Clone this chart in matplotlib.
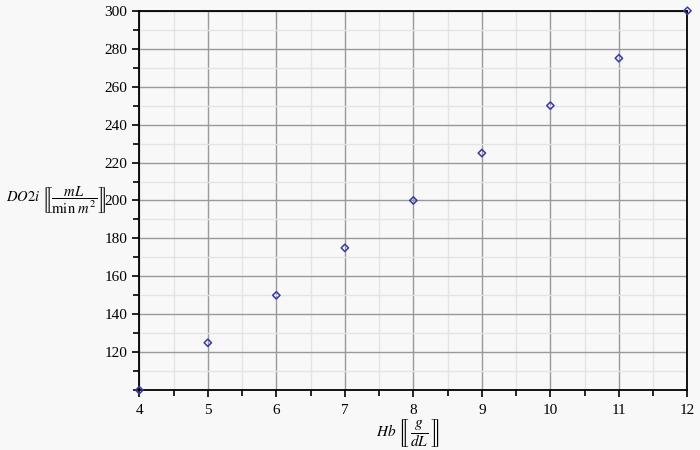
import matplotlib
matplotlib.use("Agg")
import matplotlib.pyplot as plt
from matplotlib.ticker import MultipleLocator

plt.rcParams['font.family'] = ['Liberation Serif', 'DejaVu Serif']
plt.rcParams['mathtext.fontset'] = 'stix'

# Hb (g/dL) vs DO2i (mL/min m^2)
hb = [4, 5, 6, 7, 8, 9, 10, 11, 12]
do2i = [100, 125, 150, 175, 200, 225, 250, 275, 300]

fig = plt.figure(figsize=(7, 4.5), dpi=100, facecolor='#f8f8f8')
ax = fig.add_axes([0.199, 0.133, 0.783, 0.843])
ax.set_facecolor('#f8f8f8')

ax.scatter(hb, do2i, marker='D', s=14, facecolors='none', edgecolors='#3a3aa0',
           linewidths=1.1, zorder=5, clip_on=False)

ax.set_xlim(4, 12)
ax.set_ylim(100, 300)
ax.xaxis.set_major_locator(MultipleLocator(1))
ax.xaxis.set_minor_locator(MultipleLocator(0.5))
ax.yaxis.set_major_locator(MultipleLocator(20))
ax.yaxis.set_minor_locator(MultipleLocator(10))
ax.set_yticks([120, 140, 160, 180, 200, 220, 240, 260, 280, 300])

ax.grid(which='major', color='#999999', linewidth=1.0)
ax.grid(which='minor', color='#e4e4e4', linewidth=1.0)
ax.set_axisbelow(True)

for s in ax.spines.values():
    s.set_color('black')
    s.set_linewidth(1.3)

ax.tick_params(which='major', length=5, width=1.2, direction='out', labelsize=11, colors='black')
ax.tick_params(which='minor', length=4, width=1.2, direction='out')
ax.tick_params(axis='x', pad=5)

fig.text(408 / 700, 1 - 433 / 450,
         r'$Hb\ \left[\!\!\left[\,\dfrac{g}{dL}\,\right]\!\!\right]$',
         fontsize=11, ha='center', va='center')
fig.text(6 / 700, 1 - 200 / 450,
         r'$DO2i\ \left[\!\!\left[\dfrac{mL}{\mathrm{min}\ m^2}\right]\!\!\right]$',
         fontsize=10.5, ha='left', va='center')

fig.savefig('out.png', dpi=100, facecolor=fig.get_facecolor())
